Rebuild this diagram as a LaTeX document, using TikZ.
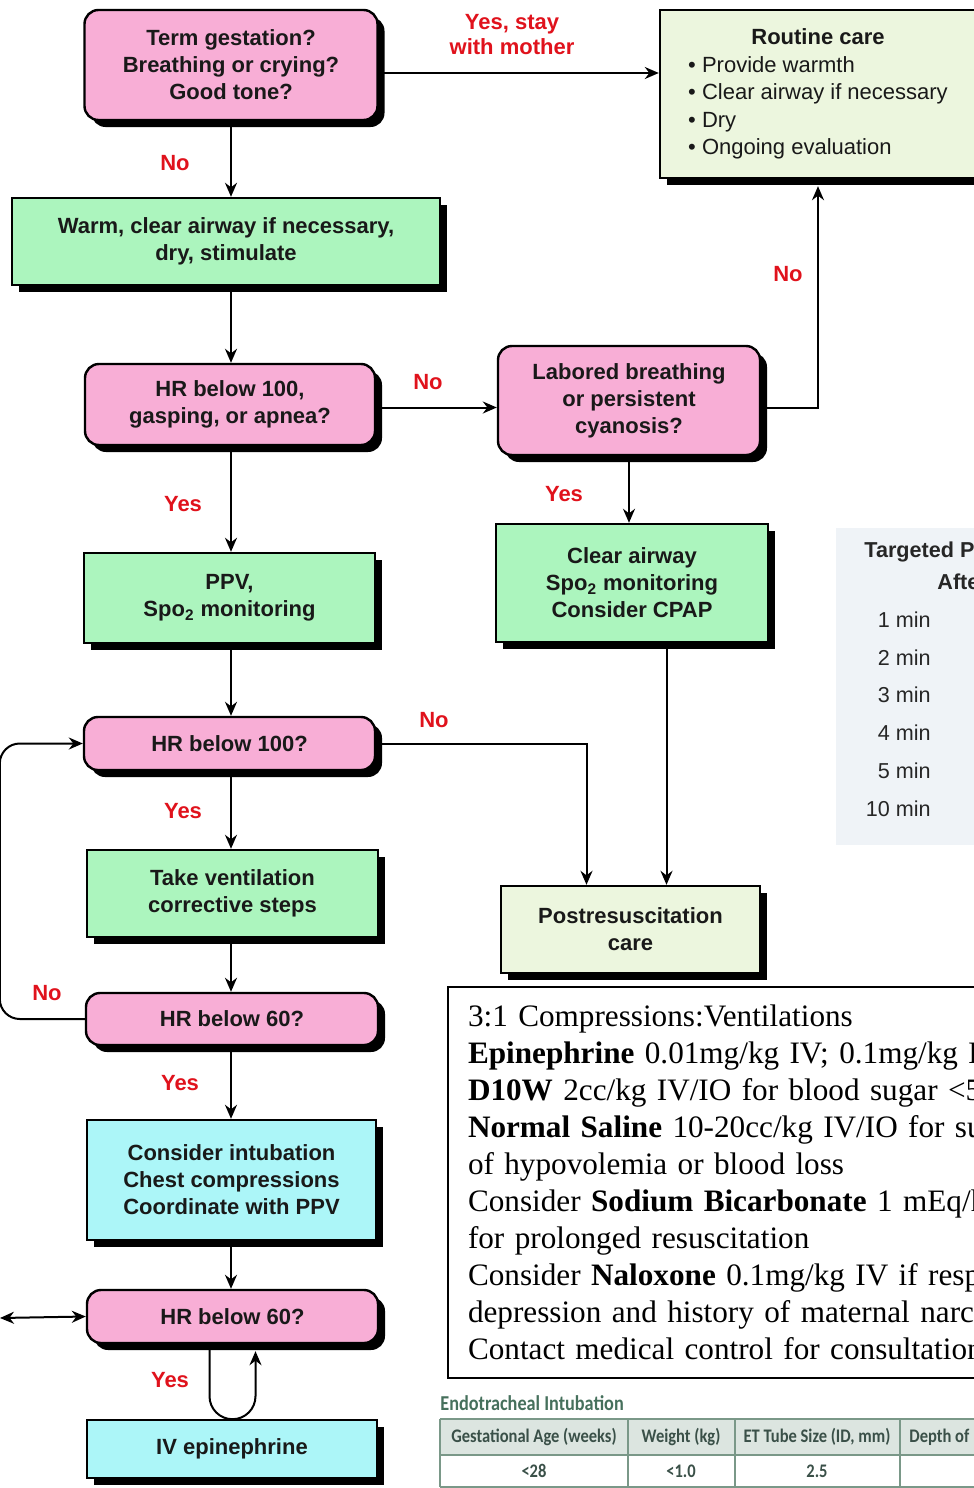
\documentclass[tikz,border=0pt]{standalone}
\usepackage{fontspec}
\setmainfont{Liberation Sans}
\newfontfamily\notefont{Liberation Serif}
\newfontfamily\etfont[FakeStretch=0.86]{Carlito}
\usetikzlibrary{arrows.meta,shadows}
\definecolor{qpink}{RGB}{248,174,214}
\definecolor{actgreen}{RGB}{172,245,190}
\definecolor{caregreen}{RGB}{236,246,222}
\definecolor{drugcyan}{RGB}{172,246,248}
\definecolor{labelred}{RGB}{224,18,28}
\definecolor{panelgrey}{RGB}{239,243,247}
\definecolor{etgreen}{RGB}{70,112,92}
\definecolor{etline}{RGB}{122,152,136}
\definecolor{ethead}{RGB}{220,229,224}
\definecolor{ettext}{RGB}{58,80,72}

\begin{document}
\begin{tikzpicture}[x=0.5pt,y=-0.5pt,
  box/.style={draw=black, line width=1.2pt, text=black!90, align=center, inner sep=2pt,
    font=\bfseries\fontsize{11}{13.5}\selectfont,
    drop shadow={shadow xshift=3.5pt, shadow yshift=-3.5pt, fill=black, opacity=1}},
  question/.style={box, fill=qpink, rounded corners=7pt},
  action/.style={box, fill=actgreen},
  care/.style={box, fill=caregreen},
  drug/.style={box, fill=drugcyan},
  answer/.style={text=labelred, font=\bfseries\fontsize{11}{12.5}\selectfont, align=center, inner sep=0pt},
  arr/.style={line width=1pt, -{Stealth[length=7pt,width=6pt]}},
  spotext/.style={font=\fontsize{10.8}{12}\selectfont, text=black!85, inner sep=0pt},
  etcell/.style={text=ettext, font=\etfont\bfseries\fontsize{9.6}{11}\selectfont, inner sep=0pt}]
\useasboundingbox (0,0) rectangle (974,1488);
\clip (0,0) rectangle (974,1488);

% flow chart boxes
\node[question, minimum width=146.5pt, minimum height=55pt] (term) at (231,65) {Term gestation?\\Breathing or crying?\\Good tone?};
\node[care, minimum width=158pt, minimum height=84pt, font=\fontsize{11}{13.75}\selectfont] (routine) at (818,94)
  {\begin{tabular}{@{}l@{}}\multicolumn{1}{@{}c@{}}{\bfseries Routine care}\\
   \textbullet\ Provide warmth\\ \textbullet\ Clear airway if necessary\\ \textbullet\ Dry\\ \textbullet\ Ongoing evaluation\end{tabular}};
\node[action, minimum width=214pt, minimum height=43.5pt] (warm) at (226,241.5) {Warm, clear airway if necessary,\\dry, stimulate};
\node[question, minimum width=145pt, minimum height=40.5pt] (gasp) at (230,404.5) {HR below 100,\\gasping, or apnea?};
\node[question, minimum width=131pt, minimum height=54.5pt] (labored) at (629,400.5) {Labored breathing\\or persistent\\cyanosis?};
\node[action, minimum width=136pt, minimum height=59pt] (clear) at (632,583) {Clear airway\\Spo\textsubscript{2} monitoring\\Consider CPAP};
\node[action, minimum width=145.5pt, minimum height=45pt] (ppv) at (229.5,598) {PPV,\\Spo\textsubscript{2} monitoring};
\node[question, minimum width=145.5pt, minimum height=26.5pt] (hrhundred) at (229.5,743.5) {HR below 100?};
\node[action, minimum width=145.5pt, minimum height=43.5pt] (steps) at (232.5,893.5) {Take ventilation\\corrective steps};
\node[care, minimum width=129.5pt, minimum height=43.5pt] (postcare) at (630.5,929.5) {Postresuscitation\\care};
\node[question, minimum width=146pt, minimum height=26pt] (hrsixty) at (232,1019) {HR below 60?};
\node[drug, minimum width=144.5pt, minimum height=60pt] (compress) at (231.5,1180) {Consider intubation\\Chest compressions\\Coordinate with PPV};
\node[question, minimum width=145.5pt, minimum height=26.5pt] (hrsixtyb) at (232.5,1316.5) {HR below 60?};
\node[drug, minimum width=145pt, minimum height=29pt] (epi) at (232,1449) {IV epinephrine};

% connectors
\draw[arr] ([yshift=-4pt]term.east) -- ([yshift=-4pt]term.east -| routine.west);
\draw[arr] (term.south) -- (term.south |- warm.north);
\draw[arr] (warm.south -| term.south) -- (term.south |- gasp.north);
\draw[arr] ([yshift=-1.5pt]gasp.east) -- ([yshift=-1.5pt]gasp.east -| labored.west);
\draw[arr, shorten >=3.5pt] ([yshift=-3.5pt]labored.east) -| (routine.south);
\draw[arr] (labored.south) -- (labored.south |- clear.north);
\draw[arr] (gasp.south -| term.south) -- (term.south |- ppv.north);
\draw[arr] (ppv.south -| term.south) -- (term.south |- hrhundred.north);
\draw[arr] (hrhundred.east) -| ([xshift=-22pt]postcare.north);
\draw[arr] ([xshift=18pt]postcare.north |- clear.south) -- ([xshift=18pt]postcare.north);
\draw[arr] (hrhundred.south -| term.south) -- (term.south |- steps.north);
\draw[arr] (steps.south -| term.south) -- (term.south |- hrsixty.north);
\draw[arr, rounded corners=10pt] (hrsixty.west) -- ++(-85,0) |- (hrhundred.west);
\draw[arr] (hrsixty.south -| term.south) -- (term.south |- compress.north);
\draw[arr] (compress.south -| term.south) -- (term.south |- hrsixtyb.north);
\coordinate (backout) at (0,1318);
\draw[line width=1pt, {Stealth[length=7pt,width=6pt]}-{Stealth[length=7pt,width=6pt]}] (backout) -- (hrsixtyb.west);
\draw[arr] ([xshift=-11.5pt]hrsixtyb.south) -- ++(0,52) arc[start angle=180, end angle=360, radius=11.5pt] -- ([xshift=11.5pt,yshift=-3.5pt]hrsixtyb.south);

% answers
\node[answer] (yesstay) at (512,35) {Yes, stay\\with mother};
\node[answer] (notop) at (175,163) {No};
\node[answer] (nogasp) at (428,382) {No};
\node[answer] (nolab) at (788,274) {No};
\node[answer] (yeslab) at (564,494) {Yes};
\node[answer] (yesgasp) at (183,504) {Yes};
\node[answer] (nohundred) at (434,720) {No};
\node[answer] (yeshundred) at (183,811) {Yes};
\node[answer] (nosixty) at (47,993) {No};
\node[answer] (yessixty) at (180,1083) {Yes};
\node[answer] (yessixtyb) at (170,1380) {Yes};

% SpO2 panel
\fill[panelgrey] (836,528) rectangle (990,845);
\node[spotext, font=\bfseries\fontsize{10.8}{12}\selectfont, anchor=west] (spohead) at (864,552) {Targeted Pre-ductal SpO\textsubscript{2}};
\node[spotext, font=\bfseries\fontsize{10.8}{12}\selectfont, anchor=west] (spoafter) at (937,582) {After Birth};
\node[spotext, anchor=east] (minone) at (931,620) {1 min};
\node[spotext, anchor=east] (mintwo) at (931,658) {2 min};
\node[spotext, anchor=east] (minthree) at (931,695) {3 min};
\node[spotext, anchor=east] (minfour) at (931,733) {4 min};
\node[spotext, anchor=east] (minfive) at (931,771) {5 min};
\node[spotext, anchor=east] (minten) at (931,809) {10 min};

% drug notes
\node[draw=black, line width=1pt, anchor=north west, inner xsep=10pt, inner ysep=9pt, text width=400pt, align=left,
  font=\notefont\fontsize{15.6}{18.5}\selectfont] (notes) at (447,986)
  {3:1 Compressions:Ventilations\\
   \textbf{Epinephrine} 0.01mg/kg IV; 0.1mg/kg ETT\\
   \textbf{D10W} 2cc/kg IV/IO for blood sugar <50\\
   \textbf{Normal Saline} 10-20cc/kg IV/IO for suspected\\
   of hypovolemia or blood loss\\
   Consider \textbf{Sodium Bicarbonate} 1 mEq/kg IV\\
   for prolonged resuscitation\\
   Consider \textbf{Naloxone} 0.1mg/kg IV if respiratory\\
   depression and history of maternal narcotic use\\
   Contact medical control for consultation};

% ET tube table
\node[anchor=west, text=etgreen, font=\etfont\bfseries\fontsize{10.6}{12}\selectfont, inner sep=0pt] (ettitle) at (440,1403) {Endotracheal Intubation};
\fill[ethead] (440,1419) rectangle (990,1455);
\draw[etline, line width=1pt] (440,1419) -- (990,1419) (440,1455) -- (990,1455) (440,1487) -- (990,1487);
\draw[etline, line width=1pt] (440,1419) -- (440,1487) (628,1419) -- (628,1487) (735,1419) -- (735,1487) (900,1419) -- (900,1487);
\node[etcell] (gestage) at (534,1437) {Gestational Age (weeks)};
\node[etcell] (weight) at (681,1437) {Weight (kg)};
\node[etcell] (tubesize) at (817,1437) {ET Tube Size (ID, mm)};
\node[etcell, anchor=west] (depth) at (909,1437) {Depth of Insertion (cm)};
\node[etcell] (gestval) at (534,1471) {<28};
\node[etcell] (weightval) at (681,1471) {<1.0};
\node[etcell] (tubeval) at (817,1471) {2.5};
\end{tikzpicture}
\end{document}
